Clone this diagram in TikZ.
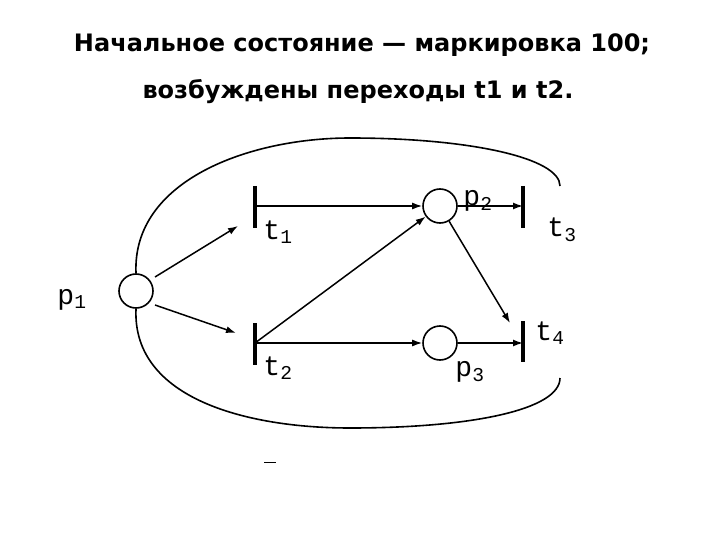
\documentclass[tikz,border=0pt]{standalone}
\usepackage{fontspec}
\setmainfont{DejaVu Sans}
\newfontfamily\mono{Liberation Mono}
\usetikzlibrary{arrows.meta}
\begin{document}
\begin{tikzpicture}[x=1pt,y=-1pt,
  place/.style={circle,draw,line width=1.6pt,minimum size=34pt,inner sep=0pt},
  bar/.style={line width=3.5pt},
  arc/.style={line width=1.5pt,-{Latex[length=10pt,width=7pt]}},
  curve/.style={line width=1.6pt},
  lbl/.style={font=\mono\fontsize{28}{28}\selectfont,inner sep=0pt},
  ttl/.style={font=\bfseries\fontsize{24}{26}\selectfont,inner sep=0pt}]
\useasboundingbox (0,0) rectangle (720,540);
\node[ttl] (h1) at (362,45) {Начальное состояние — маркировка 100;};
\node[ttl] (h2) at (358,92) {возбуждены переходы t1 и t2.};
\node[place] (p1) at (136,291) {};
\node[place] (p2) at (440,206) {};
\node[place] (p3) at (440,343) {};
\coordinate (t1t) at (255,186); \coordinate (t1b) at (255,228); \coordinate (t1) at (255,206);
\coordinate (t2t) at (255,323); \coordinate (t2b) at (255,365); \coordinate (t2) at (255,343);
\coordinate (t3t) at (523,186); \coordinate (t3b) at (523,228); \coordinate (t3) at (523,206);
\coordinate (t4t) at (523,321); \coordinate (t4b) at (523,362); \coordinate (t4) at (523,343);
\draw[bar] (t1t) -- (t1b); \draw[bar] (t2t) -- (t2b);
\draw[bar] (t3t) -- (t3b); \draw[bar] (t4t) -- (t4b);
\coordinate (a1) at (238,226); \coordinate (a2) at (236,333); \coordinate (a4) at (510,323);
\draw[arc] (155,277) -- (a1);
\draw[arc] (155,305) -- (a2);
\draw[arc] (t1) -- (p2);
\draw[arc] (p2) -- (t3);
\draw[arc] (t2) -- (p3);
\draw[arc] (p3) -- (t4);
\draw[arc] (t2) -- (p2);
\draw[arc] (p2) -- (a4);
\coordinate (e1) at (560,186); \coordinate (e2) at (560,378);
\draw[curve] (p1.north) .. controls (132,180) and (250,138) .. (350,138)
  .. controls (470,138) and (560,158) .. (e1);
\draw[curve] (p1.south) .. controls (132,400) and (250,428) .. (350,428)
  .. controls (470,428) and (560,410) .. (e2);
\node[lbl] (lp1) at (72,300) {p\textsubscript{1}};
\node[lbl] (lt1) at (278,232) {t\textsubscript{1}};
\node[lbl] (lp2) at (478,201) {p\textsubscript{2}};
\node[lbl] (lt3) at (562,230) {t\textsubscript{3}};
\node[lbl] (lt2) at (278,368) {t\textsubscript{2}};
\node[lbl] (lp3) at (470,372) {p\textsubscript{3}};
\node[lbl] (lt4) at (550,333) {t\textsubscript{4}};
\draw[line width=1pt] (264,462) -- (276,462);
\end{tikzpicture}
\end{document}
